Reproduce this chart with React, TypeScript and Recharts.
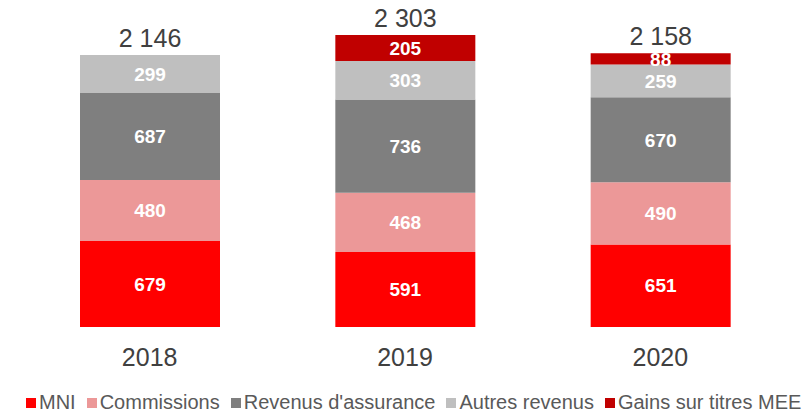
import React from "react";
import { BarChart, Bar, XAxis, YAxis, LabelList, Legend } from "recharts";

const years = ["2018", "2019", "2020"];
const mni = [679, 591, 651];
const commissions = [480, 468, 490];
const assurance = [687, 736, 670];
const autres = [299, 303, 259];
const gains = [0, 205, 88];
// totals as printed on the slide (rounded separately)
const totals = [2146, 2303, 2158];

const data = years.map((year, i) => ({
  year,
  mni: mni[i],
  commissions: commissions[i],
  assurance: assurance[i],
  autres: autres[i],
  gains: gains[i],
  total: totals[i],
}));

const series = [
  { key: "mni", name: "MNI", color: "#FF0000" },
  { key: "commissions", name: "Commissions", color: "#EC9898" },
  { key: "assurance", name: "Revenus d'assurance", color: "#7F7F7F" },
  { key: "autres", name: "Autres revenus", color: "#BFBFBF" },
  { key: "gains", name: "Gains sur titres MEE", color: "#C00000" },
];

const FONT = '"Liberation Sans", Arial, sans-serif';

// thousands with a space, french style
const fmt = (v: any) => {
  const n = Number(v);
  if (!n) return "";
  return String(n).replace(/\B(?=(\d{3})+(?!\d))/g, " ");
};

const LegendContent = () => (
  <div
    style={{
      display: "flex",
      alignItems: "center",
      fontFamily: FONT,
      fontSize: 20,
      color: "#595959",
      paddingTop: 20,
      paddingLeft: 4,
      whiteSpace: "nowrap",
    }}
  >
    {series.map((s) => (
      <span key={s.key} style={{ display: "flex", alignItems: "center", marginRight: 11 }}>
        <span style={{ width: 10, height: 10, background: s.color, marginRight: 3, display: "inline-block" }} />
        {s.name}
      </span>
    ))}
  </div>
);

export default function App() {
  return (
    <div style={{ position: "absolute", left: 0, top: 0, background: "#fff" }}>
      <BarChart
        width={803}
        height={413}
        data={data}
        margin={{ top: 10, right: 15, left: 22, bottom: 0 }}
        barSize={140}
      >
        <XAxis
          dataKey="year"
          axisLine={false}
          tickLine={false}
          tickMargin={15}
          height={44}
          tick={{ fontSize: 25, fill: "#404040", fontFamily: FONT }}
        />
        <XAxis xAxisId="tot" dataKey="year" hide />
        <YAxis hide domain={[0, 2500]} />
        <Legend verticalAlign="bottom" height={42} content={<LegendContent />} />
        {series.map((s) => (
          <Bar key={s.key} dataKey={s.key} name={s.name} stackId="a" fill={s.color} isAnimationActive={false}>
            <LabelList
              dataKey={s.key}
              position="center"
              formatter={fmt}
              fill="#FFFFFF"
              fontSize={19}
              fontWeight="bold"
              fontFamily={FONT}
            />
          </Bar>
        ))}
        {/* invisible total bar on its own x axis, only carries the total labels */}
        <Bar
          dataKey="total"
          xAxisId="tot"
          fill="none"
          legendType="none"
          isAnimationActive={false}
        >
          <LabelList
            dataKey="total"
            position="top"
            offset={8}
            formatter={fmt}
            fill="#404040"
            fontSize={25}
            fontFamily={FONT}
          />
        </Bar>
      </BarChart>
    </div>
  );
}
